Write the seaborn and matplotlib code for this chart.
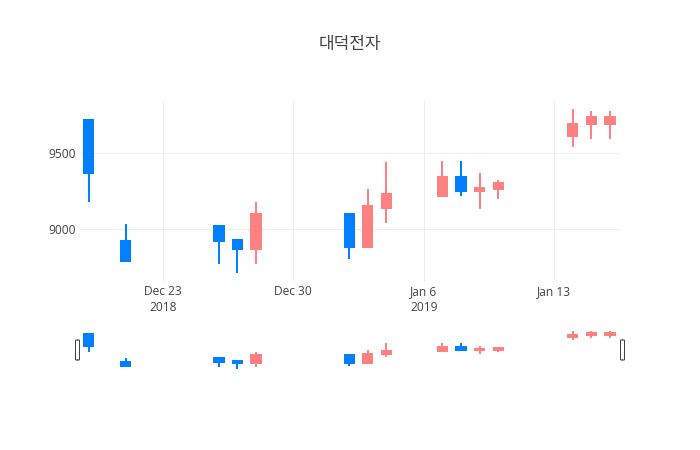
#####################################################################################################
# Required Python Packages
#####################################################################################################
import matplotlib
matplotlib.use("Agg")
import matplotlib.pyplot as plt
import matplotlib.dates as mdates
from matplotlib.patches import FancyBboxPatch
import pandas as pd
import seaborn as sns

#####################################################################################################
# Chart data
#####################################################################################################
TITLE = "대덕전자"
DATES = ["2018-12-19", "2018-12-21", "2018-12-26", "2018-12-27", "2018-12-28",
         "2019-01-02", "2019-01-03", "2019-01-04", "2019-01-07", "2019-01-08",
         "2019-01-09", "2019-01-10", "2019-01-14", "2019-01-15", "2019-01-16"]
OPEN = [9720, 8920, 9020, 8930, 8870, 9100, 8880, 9140, 9220, 9340, 9250, 9260, 9610, 9690, 9690]
HIGH = [9720, 9030, 9020, 8930, 9180, 9100, 9260, 9440, 9450, 9450, 9370, 9320, 9790, 9780, 9780]
LOW = [9180, 8790, 8770, 8710, 8770, 8800, 8880, 9040, 9220, 9220, 9130, 9200, 9540, 9590, 9590]
CLOSE = [9370, 8790, 8920, 8870, 9100, 8880, 9150, 9230, 9340, 9250, 9270, 9300, 9690, 9740, 9740]

X_TICKS = ["2018-12-23", "2018-12-30", "2019-01-06", "2019-01-13"]
X_TICK_LABELS = ["Dec 23\n2018", "Dec 30", "Jan 6\n2019", "Jan 13"]
Y_TICKS = [9000, 9500]

#####################################################################################################
# Styles
#####################################################################################################
UP_COLOR = "#FF8080"
DOWN_COLOR = "#0080FF"
TEXT_COLOR = "#444444"
GRID_COLOR = "#EEEEEE"
W, H = 700, 450
PX = 72 / 100  # one pixel in points


def pixelBox(left, top, right, bottom):
    return [left / W, 1 - bottom / H, (right - left) / W, (bottom - top) / H]


#####################################################################################################
#   Function Name   :   drawCandles
#   Description     :   draws wicks and bodies of the candles on an axes
#####################################################################################################
def drawCandles(ax, df):
    colors = [UP_COLOR if c >= o else DOWN_COLOR for o, c in zip(df["open"], df["close"])]
    ax.vlines(df["date"], df["low"], df["high"], colors=colors, linewidth=2 * PX, zorder=3)
    bottoms = df[["open", "close"]].min(axis=1)
    heights = (df["close"] - df["open"]).abs()
    ax.bar(df["date"], heights, bottom=bottoms, width=0.5, color=colors,
           edgecolor=colors, linewidth=2 * PX, zorder=4)


def main():
    sns.set_theme(style="white")
    plt.rcParams["font.family"] = ["Open Sans", "Noto Sans CJK KR", "DejaVu Sans"]

    df = pd.DataFrame({"date": pd.to_datetime(DATES), "open": OPEN, "high": HIGH,
                       "low": LOW, "close": CLOSE})

    xmin = pd.Timestamp("2018-12-18 13:00")
    xmax = pd.Timestamp("2019-01-16 13:00")
    ylim = (8650, 9850)

    fig = plt.figure(figsize=(W / 100, H / 100), dpi=100)
    fig.text(0.5, 1 - 44 / H, TITLE, ha="center", va="center", fontsize=17 * PX,
             color=TEXT_COLOR, family=["Noto Sans CJK KR", "DejaVu Sans"])

    # main candlestick plot
    ax = fig.add_axes(pixelBox(80, 100, 620, 282))
    drawCandles(ax, df)
    ax.set_xlim(xmin, xmax)
    ax.set_ylim(*ylim)
    ax.set_xticks(pd.to_datetime(X_TICKS))
    ax.set_xticklabels(X_TICK_LABELS, linespacing=1.35)
    ax.set_yticks(Y_TICKS)
    ax.tick_params(axis="both", length=0, labelsize=12 * PX, labelcolor=TEXT_COLOR)
    ax.tick_params(axis="x", pad=2)
    ax.tick_params(axis="y", pad=3)
    ax.grid(True, color=GRID_COLOR, linewidth=PX)
    ax.set_axisbelow(True)
    sns.despine(ax=ax, left=True, bottom=True)
    ax.set_xlabel("")
    ax.set_ylabel("")

    # range slider
    sl = fig.add_axes(pixelBox(80, 329, 620, 371))
    drawCandles(sl, df)
    sl.set_xlim(xmin, xmax)
    sl.set_ylim(*ylim)
    sl.set_xticks([])
    sl.set_yticks([])
    sns.despine(ax=sl, left=True, bottom=True)
    for hx in (-2.5 / 540, 1 + 2.5 / 540):
        handle = FancyBboxPatch((hx - 2 / 540, 11 / 42), 4 / 540, 20 / 42,
                                boxstyle="round,pad=0,rounding_size=0.004",
                                transform=sl.transAxes, facecolor="white",
                                edgecolor="#444444", linewidth=PX, clip_on=False, zorder=6)
        sl.add_patch(handle)

    fig.savefig("out.png", dpi=100)


if __name__ == "__main__":
    main()
